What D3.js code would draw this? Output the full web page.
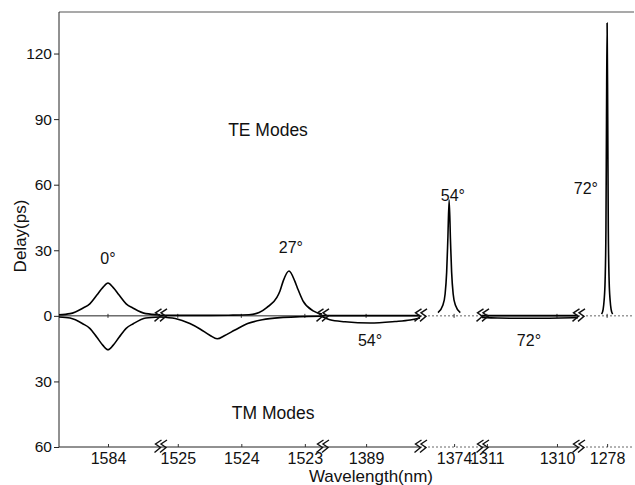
<!DOCTYPE html>
<html>
<head>
<meta charset="utf-8">
<script src="https://cdn.jsdelivr.net/npm/d3@7"></script>
<style>
  body { margin: 0; background: #fff; }
  svg { display: block; font-family: "Liberation Sans", Arial, sans-serif; }
</style>
</head>
<body>
<svg id="chart" width="635" height="485"></svg>
<script>
// wavelength windows (nm), left to right, each on its own piece of the broken axis
const segDomains = [[1584.97, 1582.97], [1525.28, 1522.73], [1389.9, 1387.9], [1374.55, 1373.55], [1311.07, 1309.70], [1278.52, 1277.52]];
const segWidths = [101, 162, 98, 62, 96, 56];
const segTicks = [[1584], [1525, 1524, 1523], [1389], [1374], [1311, 1310], [1278]];
const faintSegs = [3, 5]; // these stretches of axis come out dotted in the scan

const yTicks = [-60, -30, 0, 30, 60, 90, 120];

// [wavelength, delay ps]
const te0 = [[1584.97, 0.5], [1584.75, 1.0], [1584.50, 3.5], [1584.36, 5.5], [1584.22, 9.5], [1584.10, 13], [1584.00, 15],
  [1583.90, 13], [1583.78, 9.5], [1583.64, 5.5], [1583.50, 3.5], [1583.25, 1.0], [1582.97, 0.5]];
const tm0 = [[1584.97, -0.5], [1584.75, -1.0], [1584.50, -3.6], [1584.36, -5.7], [1584.22, -9.8], [1584.10, -13.5], [1584.00, -15.5],
  [1583.90, -13.5], [1583.78, -9.8], [1583.64, -5.7], [1583.50, -3.6], [1583.25, -1.0], [1582.97, -0.5]];
const te27 = [[1525.28, 0.2], [1524.6, 0.2], [1524.2, 0.3], [1523.88, 0.5], [1523.72, 1.5], [1523.60, 3.8], [1523.44, 8.4],
  [1523.39, 11.5], [1523.34, 16], [1523.25, 20.5], [1523.16, 16], [1523.12, 13], [1523.03, 6.9], [1522.87, 2.3], [1522.73, 0.8]];
const tm27 = [[1525.28, -0.5], [1525.04, -1.2], [1524.81, -3.5], [1524.65, -6], [1524.49, -9], [1524.38, -10.5], [1524.26, -9],
  [1524.10, -6.5], [1523.90, -3.5], [1523.67, -1.8], [1523.39, -0.8], [1523.08, -0.4], [1522.73, -0.2]];
const te54flat = [[1389.9, 0.1], [1387.9, 0.1]];
const tm54 = [[1389.90, -0.3], [1389.74, -1.8], [1389.43, -2.7], [1388.92, -3.3], [1388.41, -2.6], [1388.10, -1.9], [1387.90, -1.0]];
const te54 = [[1374.26, 1.5], [1374.18, 5], [1374.145, 10], [1374.12, 20], [1374.101, 35], [1374.08, 53], [1374.059, 35],
  [1374.04, 20], [1374.015, 10], [1373.98, 5], [1373.90, 1.5]];
const te72flat = [[1311.07, 0.1], [1309.70, 0.1]];
const tm72 = [[1311.07, -0.7], [1310.85, -1.0], [1310.55, -1.1], [1310.25, -1.1], [1309.95, -1.0], [1309.70, -0.8]];
const te72 = [[1278.098, 0.8], [1278.071, 3], [1278.054, 7], [1278.036, 16], [1278.021, 40], [1278.011, 90], [1278.0, 134],
  [1277.989, 90], [1277.979, 40], [1277.964, 16], [1277.946, 7], [1277.929, 3], [1277.902, 0.8]];

const curves = [
  { seg: 0, pts: te0 }, { seg: 0, pts: tm0 },
  { seg: 1, pts: te27 }, { seg: 1, pts: tm27 },
  { seg: 2, pts: te54flat }, { seg: 2, pts: tm54 },
  { seg: 3, pts: te54 },
  { seg: 4, pts: te72flat }, { seg: 4, pts: tm72 },
  { seg: 5, pts: te72 },
];

const notes = [
  { seg: 0, wl: 1584.0, d: 23.8, t: '0°' },
  { seg: 1, wl: 1523.22, d: 28.9, t: '27°' },
  { seg: 3, wl: 1374.02, d: 52.7, t: '54°' },
  { seg: 5, wl: 1278.38, d: 55.9, t: '72°' },
  { seg: 2, wl: 1388.92, d: -13.7, t: '54°' },
  { seg: 4, wl: 1310.40, d: -13.7, t: '72°' },
  { seg: 1, wl: 1523.58, d: 82.4, t: 'TE Modes', big: true },
  { seg: 1, wl: 1523.50, d: -47.2, t: 'TM Modes', big: true },
];

const plotLeft = 59, plotTop = 12, plotBottom = 447, plotRight = 634;

const svg = d3.select('#chart');

const y = d3.scaleLinear().domain([-60, 139]).range([plotBottom, plotTop]);

// one x scale per window
let x0 = plotLeft;
const xs = segDomains.map((dom, i) => {
  const s = d3.scaleLinear().domain(dom).range([x0, x0 + segWidths[i]]);
  x0 += segWidths[i];
  return s;
});

// top frame line
svg.append('line')
  .attr('x1', plotLeft).attr('x2', plotRight)
  .attr('y1', plotTop).attr('y2', plotTop)
  .attr('stroke', '#555').attr('stroke-width', 1.2);

// left axis
const yAxis = svg.append('g')
  .attr('transform', `translate(${plotLeft},0)`)
  .call(d3.axisLeft(y).tickValues(yTicks).tickSize(5).tickPadding(2).tickFormat((d) => Math.abs(d)));
yAxis.attr('font-size', null).attr('font-family', null);
yAxis.select('.domain').attr('d', `M0,${plotTop}V${plotBottom}`).attr('stroke', '#222');
yAxis.selectAll('.tick line').attr('stroke', '#222');
yAxis.selectAll('text').style('font-size', '15.5px').attr('fill', '#111');

// bottom axis and the zero line, window by window
xs.forEach((s, i) => {
  const faint = faintSegs.includes(i);
  const g = svg.append('g')
    .attr('transform', `translate(0,${plotBottom})`)
    .call(d3.axisBottom(s).tickValues(segTicks[i]).tickSize(-3).tickPadding(6).tickFormat(d3.format('d')));
  g.attr('font-size', null).attr('font-family', null);
  g.select('.domain')
    .attr('d', `M${s.range()[0]},0H${s.range()[1]}`)
    .attr('stroke', faint ? '#666' : '#222')
    .attr('stroke-dasharray', faint ? '2,2' : null);
  g.selectAll('.tick line').attr('stroke', '#333');
  g.selectAll('text').style('font-size', '16px').attr('fill', '#111');

  svg.append('line')
    .attr('x1', s.range()[0]).attr('x2', s.range()[1])
    .attr('y1', y(0)).attr('y2', y(0))
    .attr('stroke', faint ? '#666' : '#222')
    .attr('stroke-width', 1)
    .attr('stroke-dasharray', faint ? '2,2' : null);

  svg.append('g').selectAll('line')
    .data(segTicks[i])
    .join('line')
    .attr('x1', (d) => s(d)).attr('x2', (d) => s(d))
    .attr('y1', y(0) - 2).attr('y2', y(0) + 2)
    .attr('stroke', '#333');
});

// curves
const line = (s) => d3.line()
  .x((d) => s(d[0]))
  .y((d) => y(d[1]))
  .curve(d3.curveMonotoneX);

svg.append('g')
  .selectAll('path')
  .data(curves)
  .join('path')
  .attr('d', (c) => line(xs[c.seg])(c.pts))
  .attr('fill', 'none')
  .attr('stroke', '#000')
  .attr('stroke-width', 1.6)
  .attr('stroke-linejoin', 'round');

// axis break marks
const breakAt = xs.slice(1).map((s) => s.range()[0]);
const zig = 'M4,-7L-2,-3L3,0.5L-3,5.5';
[y(0), plotBottom].forEach((yy) => {
  breakAt.forEach((bx) => {
    [0, 5.5].forEach((dx) => {
      svg.append('path')
        .attr('d', zig)
        .attr('transform', `translate(${bx - 2.5 + dx},${yy})`)
        .attr('fill', 'none')
        .attr('stroke', '#111')
        .attr('stroke-width', 1.4);
    });
  });
});

// annotations
svg.append('g')
  .selectAll('text')
  .data(notes)
  .join('text')
  .attr('x', (d) => xs[d.seg](d.wl))
  .attr('y', (d) => y(d.d))
  .attr('text-anchor', 'middle')
  .attr('font-size', (d) => (d.big ? '17.5px' : '16px'))
  .attr('fill', '#111')
  .text((d) => d.t);

// axis titles
svg.append('text')
  .attr('transform', 'translate(26,236) rotate(-90)')
  .attr('text-anchor', 'middle')
  .attr('font-size', '17px')
  .attr('fill', '#111')
  .text('Delay(ps)');

svg.append('text')
  .attr('x', 371)
  .attr('y', 482)
  .attr('text-anchor', 'middle')
  .attr('font-size', '17px')
  .attr('fill', '#111')
  .text('Wavelength(nm)');
</script>
</body>
</html>
